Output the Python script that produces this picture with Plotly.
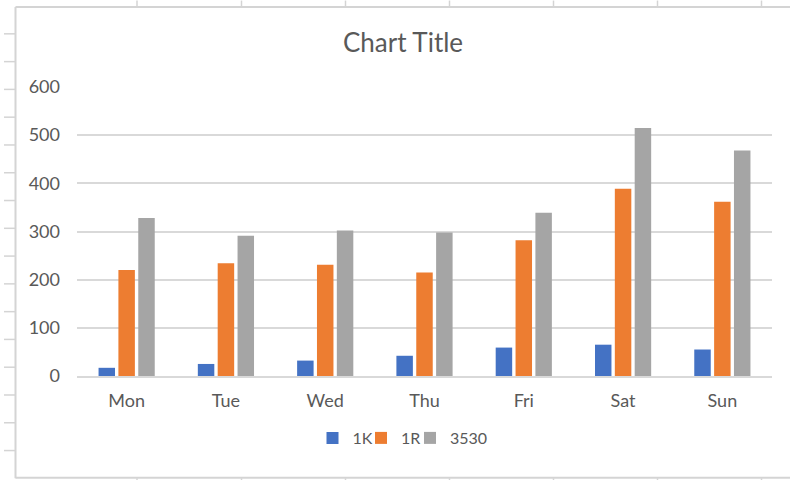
import plotly.graph_objects as go

days = ["Mon", "Tue", "Wed", "Thu", "Fri", "Sat", "Sun"]
s_1k = [17, 25, 32, 42, 59, 65, 55]
s_1r = [220, 234, 231, 215, 282, 389, 362]
s_3530 = [328, 291, 302, 298, 339, 515, 468]
series_names = ["1K", "1R", "3530"]
colors = ["#4472C4", "#ED7D31", "#A5A5A5"]

W, H = 790, 480
L, R = 77, 772
T, B = 86.5, 375.7

FONT = "Lato"
TXT = "#595959"
GRID = "#D9D9D9"

legend_ids = ["legend", "legend2", "legend3"]
legend_left_px = [312.5, 361, 410]

fig = go.Figure()
for name, vals, c, lg in zip(series_names, [s_1k, s_1r, s_3530], colors, legend_ids):
    fig.add_trace(go.Bar(x=days, y=vals, name=name, legend=lg, showlegend=True,
                         marker=dict(color=c, line=dict(width=0))))


def px_x(px):
    return (px - L) / (R - L)


def px_y(py):
    return (B - py) / (B - T)


shapes = []
line = dict(color="#D4D4D4", width=2)
# chart area border (left, top, bottom)
shapes.append(dict(type="line", xref="paper", yref="paper", x0=px_x(15.5), x1=px_x(15.5), y0=px_y(6.5), y1=px_y(478), line=line))
shapes.append(dict(type="line", xref="paper", yref="paper", x0=px_x(15.5), x1=px_x(800), y0=px_y(6.5), y1=px_y(6.5), line=line))
shapes.append(dict(type="line", xref="paper", yref="paper", x0=px_x(15.5), x1=px_x(800), y0=px_y(477.5), y1=px_y(477.5), line=line))
# spreadsheet row ticks on the left
for i in range(1, 17):
    yy = 5.5 + 27.8 * i
    shapes.append(dict(type="line", xref="paper", yref="paper", x0=px_x(4), x1=px_x(15), y0=px_y(yy), y1=px_y(yy), line=dict(color="#D4D4D4", width=1.5)))
# spreadsheet column ticks top and bottom
for xx in [137, 241.5, 345.5, 449.5, 553.5, 657.5, 761.5]:
    shapes.append(dict(type="line", xref="paper", yref="paper", x0=px_x(xx), x1=px_x(xx), y0=px_y(0), y1=px_y(6), line=dict(color="#D4D4D4", width=1.5)))
    shapes.append(dict(type="line", xref="paper", yref="paper", x0=px_x(xx), x1=px_x(xx), y0=px_y(478), y1=px_y(481), line=dict(color="#D4D4D4", width=1.5)))

legend_common = dict(orientation="h", xref="container", yref="container",
                     xanchor="left", y=1 - 438 / H, yanchor="middle",
                     font=dict(family=FONT, size=16, color=TXT), itemwidth=30,
                     bgcolor="rgba(0,0,0,0)", visible=True)
legends = {lg: dict(legend_common, x=lx / W) for lg, lx in zip(legend_ids, legend_left_px)}

fig.update_layout(
    width=W, height=H,
    showlegend=True,
    margin=dict(l=L, r=W - R, t=T, b=H - B, pad=0, autoexpand=False),
    paper_bgcolor="white", plot_bgcolor="white",
    barmode="group", bargap=0.4, bargroupgap=0.17,
    font=dict(family=FONT, color=TXT, size=18),
    title=dict(text="Chart Title", x=403 / W, xref="container", xanchor="center",
               y=1 - 43 / H, yref="container", yanchor="middle",
               font=dict(family=FONT, size=26, color=TXT)),
    shapes=shapes,
    xaxis=dict(showgrid=False, showline=True, linecolor=GRID, linewidth=1.5,
               ticks="", tickfont=dict(size=18, color=TXT), ticklabelstandoff=8),
    yaxis=dict(range=[0, 600], dtick=100, showgrid=True, gridcolor=GRID, gridwidth=1.5,
               zeroline=False, showline=False, ticks="",
               tickfont=dict(size=18, color=TXT), ticklabelstandoff=16),
    **legends,
)

fig.write_html(
    "out.html",
    config={"displayModeBar": False},
    post_script="document.body.style.margin='0';document.body.style.padding='0';document.body.style.overflow='hidden';",
)
